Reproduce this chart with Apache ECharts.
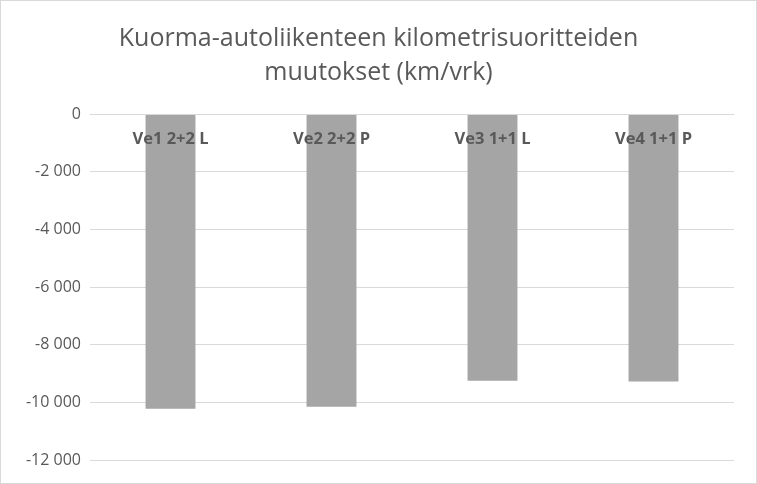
<!DOCTYPE html>
<html>
<head>
<meta charset="utf-8">
<script src="https://cdn.jsdelivr.net/npm/echarts@6/dist/echarts.min.js"></script>
<style>
  html, body { margin: 0; padding: 0; background: #fff; }
  #chart { width: 755px; height: 482px; border: 1px solid #d9d9d9; }
</style>
</head>
<body>
<div id="chart"></div>
<script>
const categories = ['Ve1 2+2 L', 'Ve2 2+2 P', 'Ve3 1+1 L', 'Ve4 1+1 P'];
const changes = [-10220, -10150, -9250, -9280];
const yTicks = { min: -12000, max: 0, step: 2000 };

const chart = echarts.init(document.getElementById('chart'));
const fmt = v => v === 0 ? '0' : (v < 0 ? '-' : '') + Math.abs(v).toString().replace(/\B(?=(\d{3})+(?!\d))/g, ' ');

chart.setOption({
  animation: false,
  title: {
    text: 'Kuorma-autoliikenteen kilometrisuoritteiden\nmuutokset (km/vrk)',
    left: 'center', top: 16,
    textStyle: { fontFamily: 'Open Sans', fontSize: 25, fontWeight: 'normal', color: '#595959', lineHeight: 34 }
  },
  grid: { left: 89, right: 22, top: 113, bottom: 23, outerBoundsMode: 'none' },
  xAxis: {
    type: 'category', data: categories, position: 'top',
    axisLine: { lineStyle: { color: '#d9d9d9' } },
    axisTick: { show: false },
    axisLabel: { inside: true, margin: 17, color: '#595959', fontWeight: 'bold', fontSize: 16.5, fontFamily: 'Open Sans' },
    z: 10
  },
  yAxis: {
    type: 'value', min: yTicks.min, max: yTicks.max, interval: yTicks.step,
    axisLine: { show: false }, axisTick: { show: false },
    axisLabel: { color: '#595959', fontSize: 16, fontFamily: 'Open Sans', margin: 9, formatter: fmt },
    splitLine: { lineStyle: { color: '#d9d9d9', width: 1 } }
  },
  series: [{
    type: 'bar', data: changes, barWidth: '31%',
    itemStyle: { color: '#a5a5a5' }
  }]
});
</script>
</body>
</html>
